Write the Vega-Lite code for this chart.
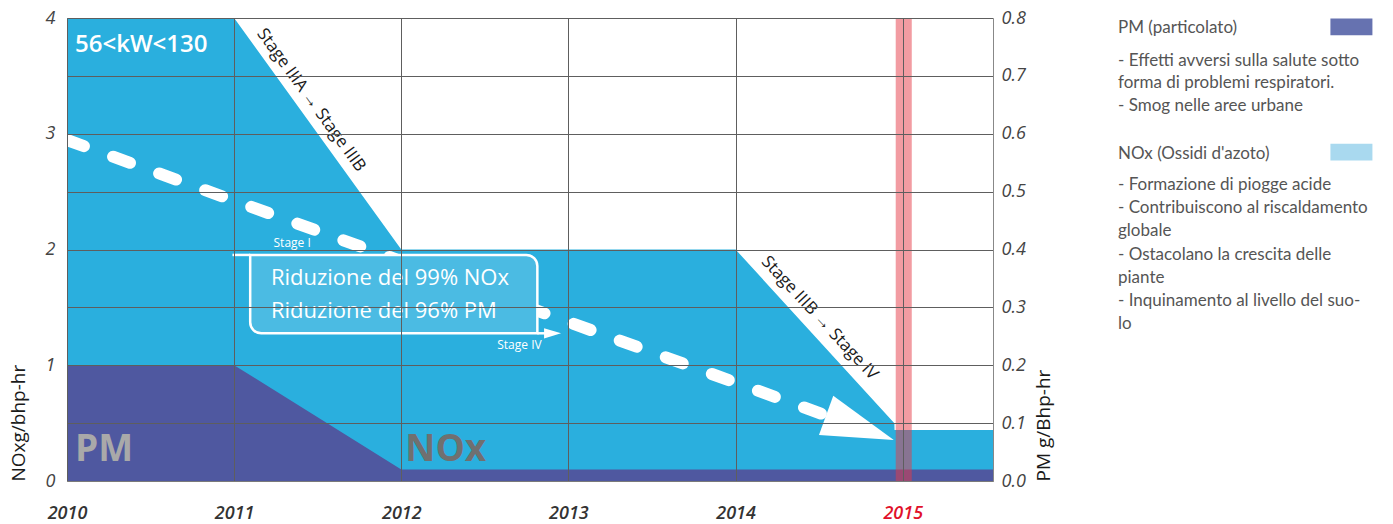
{
  "$schema": "https://vega.github.io/schema/vega-lite/v6.json",
  "background": "white",
  "padding": {"left": 9, "top": 9, "right": 0, "bottom": 0},
  "spacing": 64,
  "config": {
    "view": {"stroke": null},
    "axis": {
      "labelFont": "Open Sans", "titleFont": "Open Sans", "labelFontStyle": "italic",
      "ticks": false, "gridColor": "#5e5e5e", "gridOpacity": 1, "gridWidth": 1,
      "domainColor": "#7a7a7a", "labelColor": "#444444", "titleColor": "#1a1a1a",
      "titleFontWeight": "normal", "labelFontSize": 18, "titleFontSize": 19
    }
  },
  "datasets": {
    "nox": [
      {"year": 2010, "nox": 4}, {"year": 2011, "nox": 4}, {"year": 2012, "nox": 2},
      {"year": 2014, "nox": 2}, {"year": 2014.95, "nox": 0.5}, {"year": 2014.951, "nox": 0.44},
      {"year": 2015.54, "nox": 0.44}
    ],
    "pm": [
      {"year": 2010, "pm": 0.2}, {"year": 2011, "pm": 0.2}, {"year": 2012, "pm": 0.02}, {"year": 2015.54, "pm": 0.02}
    ],
    "band": [{"start": 2014.958, "end": 2015.054, "low": 0, "high": 4}],
    "trend": [{"year": 2010, "nox": 2.946}, {"year": 2014.744, "nox": 0.46}],
    "arrowhead": [{"year": 2014.744, "nox": 0.46}],
    "box": [{"x1": 2011.096, "x2": 2012.814, "y1": 1.276, "y2": 1.953}],
    "connectors": [
      {"x1": 2010.99, "x2": 2011.096, "y": 1.953},
      {"x1": 2012.814, "x2": 2012.905, "y": 1.276}
    ],
    "stagearrow": [{"year": 2012.905, "nox": 1.276}],
    "labels": [
      {"kind": "title", "year": 2010.048, "nox": 3.767, "text": "56<kW<130"},
      {"kind": "pm", "year": 2010.048, "nox": 0.27, "text": "PM"},
      {"kind": "nox", "year": 2012.024, "nox": 0.27, "text": "NOx"},
      {"kind": "box", "year": 2011.22, "nox": 1.754, "text": "Riduzione del 99% NOx"},
      {"kind": "box", "year": 2011.22, "nox": 1.469, "text": "Riduzione del 96% PM"},
      {"kind": "small", "year": 2011.347, "nox": 2.056, "text": "Stage I"},
      {"kind": "small", "year": 2012.707, "nox": 1.175, "text": "Stage IV"},
      {"kind": "slope1", "year": 2011.461, "nox": 3.29, "text": "Stage IIIA → Stage IIIB"},
      {"kind": "slope2", "year": 2014.503, "nox": 1.408, "text": "Stage IIIB → Stage IV"}
    ],
    "legend": [
      {"line": 0.42, "text": "PM (particolato)"},
      {"line": 1.84, "text": "- Effetti avversi sulla salute sotto"},
      {"line": 2.79, "text": "forma di problemi respiratori."},
      {"line": 3.79, "text": "- Smog nelle aree urbane"},
      {"line": 5.88, "text": "NOx (Ossidi d'azoto)"},
      {"line": 7.2, "text": "- Formazione di piogge acide"},
      {"line": 8.19, "text": "- Contribuiscono al riscaldamento"},
      {"line": 9.19, "text": "globale"},
      {"line": 10.22, "text": "- Ostacolano la crescita delle"},
      {"line": 11.22, "text": "piante"},
      {"line": 12.21, "text": "- Inquinamento al livello del suo-"},
      {"line": 13.2, "text": "lo"}
    ],
    "swatches": [{"item": "PM", "line": 0.38}, {"item": "NOx", "line": 5.79}]
  },
  "hconcat": [
    {
      "width": 926,
      "height": 463,
      "layer": [
        {
          "data": {"name": "nox"},
          "mark": {"type": "area", "color": "#2AAFDE", "opacity": 1},
          "encoding": {
            "x": {
              "field": "year", "type": "quantitative", "title": null,
              "scale": {"domain": [2010, 2015.54], "nice": false, "zero": false},
              "axis": {
                "values": [2010, 2011, 2012, 2013, 2014, 2015], "format": "d", "title": null,
                "grid": true, "zindex": 1, "labelPadding": 23, "labelFontWeight": 600,
                "labelColor": {"expr": "datum.value == 2015 ? '#E1112A' : '#333333'"},
                "domain": true, "labelFlush": false
              }
            },
            "y": {
              "field": "nox", "type": "quantitative",
              "scale": {"domain": [0, 4], "nice": false},
              "axis": {
                "orient": "left", "values": [0, 0.5, 1, 1.5, 2, 2.5, 3, 3.5, 4],
                "labelExpr": "datum.value % 1 == 0 ? format(datum.value, 'd') : ''",
                "title": "NOxg/bhp-hr", "titleAnchor": "start", "grid": true, "zindex": 1,
                "domain": false, "labelPadding": 12, "titlePadding": 17
              }
            }
          }
        },
        {
          "data": {"name": "pm"},
          "mark": {"type": "area", "color": "#4F58A0", "opacity": 1},
          "encoding": {
            "x": {"field": "year", "type": "quantitative", "title": null},
            "y": {
              "field": "pm", "type": "quantitative",
              "scale": {"domain": [0, 0.8], "nice": false},
              "axis": {
                "orient": "right", "values": [0, 0.1, 0.2, 0.3, 0.4, 0.5, 0.6, 0.7, 0.8],
                "format": ".1f", "title": "PM g/Bhp-hr", "titleAnchor": "start", "titleAngle": 270,
                "titleBaseline": "top",
                "grid": false, "zindex": 1, "domain": true, "domainColor": "#888888",
                "labelPadding": 8, "titlePadding": 9
              }
            }
          }
        },
        {
          "layer": [
            {
              "data": {"name": "band"},
              "mark": {"type": "rect", "color": "#E63946", "opacity": 0.5},
              "encoding": {
                "x": {"field": "start", "type": "quantitative", "title": null},
                "x2": {"field": "end"},
                "y": {"field": "low", "type": "quantitative", "scale": {"domain": [0, 4], "nice": false}, "axis": null},
                "y2": {"field": "high"}
              }
            },
            {
              "data": {"name": "trend"},
              "mark": {"type": "line", "color": "white", "strokeWidth": 12, "strokeDash": [18, 31], "strokeCap": "round", "clip": true},
              "encoding": {
                "x": {"field": "year", "type": "quantitative", "title": null},
                "y": {"field": "nox", "type": "quantitative", "axis": null}
              }
            },
            {
              "data": {"name": "arrowhead"},
              "mark": {"type": "point", "shape": "M-1,-0.58L1,0L-1,0.58Z", "filled": true, "size": 5184, "color": "white", "opacity": 1, "angle": 20, "strokeWidth": 0},
              "encoding": {
                "x": {"field": "year", "type": "quantitative", "title": null},
                "y": {"field": "nox", "type": "quantitative", "axis": null}
              }
            },
            {
              "data": {"name": "box"},
              "mark": {"type": "rect", "fill": "#4BBBE3", "fillOpacity": 1, "stroke": "white", "strokeWidth": 2.5, "cornerRadiusTopRight": 11, "cornerRadiusBottomLeft": 11},
              "encoding": {
                "x": {"field": "x1", "type": "quantitative", "title": null},
                "x2": {"field": "x2"},
                "y": {"field": "y1", "type": "quantitative", "axis": null},
                "y2": {"field": "y2"}
              }
            },
            {
              "data": {"name": "connectors"},
              "mark": {"type": "rule", "color": "white", "strokeWidth": 2.5},
              "encoding": {
                "x": {"field": "x1", "type": "quantitative", "title": null},
                "x2": {"field": "x2"},
                "y": {"field": "y", "type": "quantitative", "axis": null}
              }
            },
            {
              "data": {"name": "stagearrow"},
              "mark": {"type": "point", "shape": "M-1,-0.6L1,0L-1,0.6Z", "filled": true, "size": 289, "color": "white", "opacity": 1, "strokeWidth": 0},
              "encoding": {
                "x": {"field": "year", "type": "quantitative", "title": null},
                "y": {"field": "nox", "type": "quantitative", "axis": null}
              }
            },
            {
              "data": {"name": "labels"},
              "transform": [{"filter": "datum.kind == 'title'"}],
              "mark": {"type": "text", "font": "Open Sans", "fontSize": 24, "fontWeight": 600, "color": "white", "align": "left", "baseline": "middle"},
              "encoding": {
                "x": {"field": "year", "type": "quantitative", "title": null},
                "y": {"field": "nox", "type": "quantitative", "axis": null},
                "text": {"field": "text"}
              }
            },
            {
              "data": {"name": "labels"},
              "transform": [{"filter": "datum.kind == 'pm'"}],
              "mark": {"type": "text", "font": "Open Sans", "fontSize": 37, "fontWeight": "bold", "color": "#A9A9A9", "align": "left", "baseline": "middle"},
              "encoding": {
                "x": {"field": "year", "type": "quantitative", "title": null},
                "y": {"field": "nox", "type": "quantitative", "axis": null},
                "text": {"field": "text"}
              }
            },
            {
              "data": {"name": "labels"},
              "transform": [{"filter": "datum.kind == 'nox'"}],
              "mark": {"type": "text", "font": "Open Sans", "fontSize": 37, "fontWeight": "bold", "color": "#707070", "align": "left", "baseline": "middle"},
              "encoding": {
                "x": {"field": "year", "type": "quantitative", "title": null},
                "y": {"field": "nox", "type": "quantitative", "axis": null},
                "text": {"field": "text"}
              }
            },
            {
              "data": {"name": "labels"},
              "transform": [{"filter": "datum.kind == 'box'"}],
              "mark": {"type": "text", "font": "Open Sans", "fontSize": 22, "fontWeight": 500, "color": "white", "align": "left", "baseline": "middle"},
              "encoding": {
                "x": {"field": "year", "type": "quantitative", "title": null},
                "y": {"field": "nox", "type": "quantitative", "axis": null},
                "text": {"field": "text"}
              }
            },
            {
              "data": {"name": "labels"},
              "transform": [{"filter": "datum.kind == 'small'"}],
              "mark": {"type": "text", "font": "Open Sans", "fontSize": 12, "fontWeight": 500, "color": "white", "align": "center", "baseline": "middle"},
              "encoding": {
                "x": {"field": "year", "type": "quantitative", "title": null},
                "y": {"field": "nox", "type": "quantitative", "axis": null},
                "text": {"field": "text"}
              }
            },
            {
              "data": {"name": "labels"},
              "transform": [{"filter": "datum.kind == 'slope1'"}],
              "mark": {"type": "text", "font": "Open Sans", "fontSize": 17, "color": "#1a1a1a", "align": "center", "baseline": "middle", "angle": 54},
              "encoding": {
                "x": {"field": "year", "type": "quantitative", "title": null},
                "y": {"field": "nox", "type": "quantitative", "axis": null},
                "text": {"field": "text"}
              }
            },
            {
              "data": {"name": "labels"},
              "transform": [{"filter": "datum.kind == 'slope2'"}],
              "mark": {"type": "text", "font": "Open Sans", "fontSize": 17, "color": "#1a1a1a", "align": "center", "baseline": "middle", "angle": 47},
              "encoding": {
                "x": {"field": "year", "type": "quantitative", "title": null},
                "y": {"field": "nox", "type": "quantitative", "axis": null},
                "text": {"field": "text"}
              }
            }
          ]
        }
      ],
      "resolve": {"scale": {"y": "independent"}, "axis": {"y": "independent"}}
    },
    {
      "width": 273,
      "height": 463,
      "layer": [
        {
          "data": {"name": "legend"},
          "mark": {"type": "text", "font": "Lato", "fontSize": 17, "color": "#555555", "align": "left", "baseline": "middle"},
          "encoding": {
            "x": {"datum": 0, "type": "quantitative", "scale": {"domain": [0, 1]}, "axis": null},
            "y": {"field": "line", "type": "quantitative", "scale": {"domain": [0, 20], "reverse": true, "nice": false}, "axis": null},
            "text": {"field": "text"}
          }
        },
        {
          "data": {"name": "swatches"},
          "mark": {"type": "point", "shape": "M-1,-0.4L1,-0.4L1,0.4L-1,0.4Z", "filled": true, "size": 1764, "opacity": 1, "strokeWidth": 0},
          "encoding": {
            "x": {"datum": 0.855, "type": "quantitative"},
            "y": {"field": "line", "type": "quantitative"},
            "color": {"field": "item", "type": "nominal", "scale": {"domain": ["PM", "NOx"], "range": ["#6672B0", "#A9D9EF"]}, "legend": null}
          }
        }
      ]
    }
  ]
}
